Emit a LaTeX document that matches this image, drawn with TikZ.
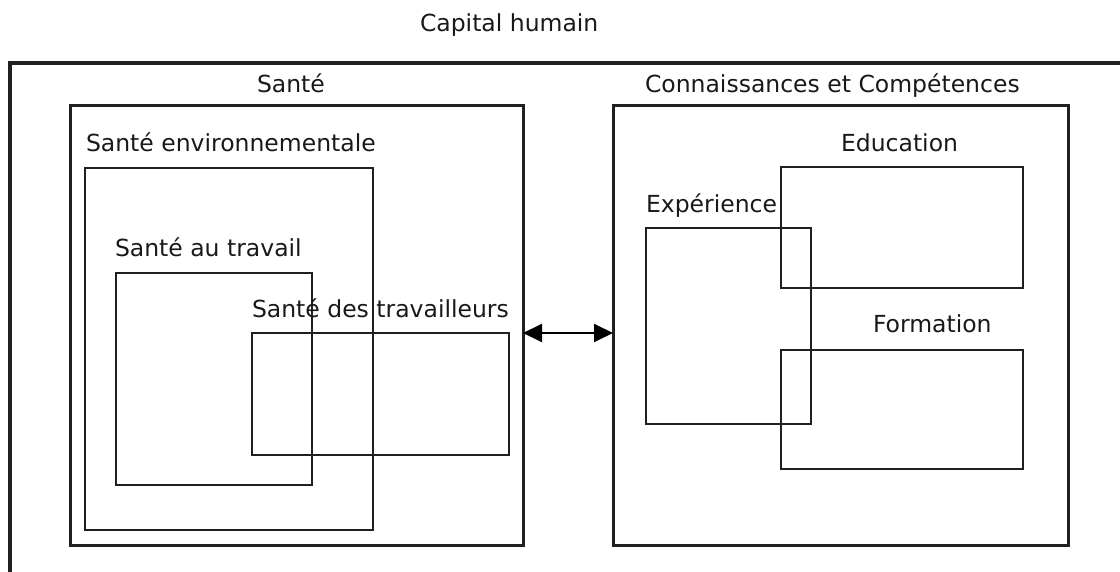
\documentclass[tikz,border=0pt]{standalone}
\usepackage{fontspec}
\setmainfont{DejaVu Sans}
\usetikzlibrary{arrows.meta}
\begin{document}
\begin{tikzpicture}[x=1pt,y=-1pt,
  every node/.style={inner sep=0pt,outer sep=0pt},
  lbl/.style={anchor=base west,font=\fontsize{23.5}{28}\selectfont,text=black!90},
  bigbox/.style={draw=black!88,line width=3pt,anchor=north west},
  smallbox/.style={draw=black!88,line width=2pt,anchor=north west},
  link/.style={draw=black,line width=2pt,{Triangle[length=19pt,width=18pt]}-{Triangle[length=19pt,width=18pt]}}]
\useasboundingbox (0,0) rectangle (1120,572);
% outer frame (partially visible)
\draw[black!88,line width=4pt] (1125,63) -- (10,63) -- (10,580);
\node[lbl] (cap) at (420,32) {Capital humain};
% main boxes
\node[bigbox,minimum width=453pt,minimum height=439pt] (sante) at (70,106) {};
\node[bigbox,minimum width=455pt,minimum height=439pt] (conn) at (613,106) {};
\node[lbl] (santel) at (257,93) {Santé};
\node[lbl] (connl) at (645,93) {Connaissances et Compétences};
% Santé sub-boxes
\node[smallbox,minimum width=288pt,minimum height=362pt] (env) at (85,168) {};
\node[lbl] (envl) at (86,152) {Santé environnementale};
\node[smallbox,minimum width=196pt,minimum height=212pt] (trav) at (116,273) {};
\node[lbl] (travl) at (115,257) {Santé au travail};
\node[smallbox,minimum width=257pt,minimum height=122pt] (trs) at (252,333) {};
\node[lbl] (trsl) at (252,317) {Santé des travailleurs};
% Connaissances sub-boxes
\node[smallbox,minimum width=242pt,minimum height=121pt] (edu) at (781,167) {};
\node[lbl] (edul) at (841,152) {Education};
\node[smallbox,minimum width=165pt,minimum height=196pt] (exp) at (646,228) {};
\node[lbl] (expl) at (646,213) {Expérience};
\node[smallbox,minimum width=242pt,minimum height=119pt] (form) at (781,350) {};
\node[lbl] (forml) at (873,333) {Formation};
% link
\draw[link] ([yshift=-7.5pt]sante.east) -- ([yshift=-7.5pt]conn.west);
\end{tikzpicture}
\end{document}
